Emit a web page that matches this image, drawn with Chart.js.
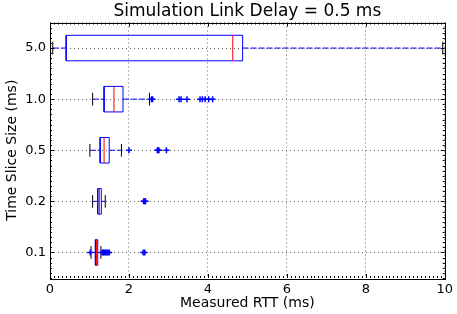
<!DOCTYPE html>
<html>
<head>
<meta charset="utf-8">
<script src="https://cdn.jsdelivr.net/npm/chart.js@4"></script>
<style>
  html, body { margin: 0; padding: 0; background: #fff; }
</style>
</head>
<body>
<canvas id="rttChart" width="457" height="314"></canvas>
<script>
// Box plot stats per time slice size (bottom row first), values in ms
const sliceSizes = ['0.1', '0.2', '0.5', '1.0', '5.0'];
const whiskerLow = [1.04, 1.08, 1.01, 1.08, 0.07];
const quartile1 = [1.15, 1.21, 1.27, 1.37, 0.41];
const medians = [1.18, 1.25, 1.37, 1.62, 4.63];
const quartile3 = [1.21, 1.30, 1.50, 1.85, 4.88];
const whiskerHigh = [1.29, 1.40, 1.81, 2.52, 9.95];
const fliers = [
    [1.02, 1.32, 1.35, 1.38, 1.41, 1.44, 1.47, 1.50, 2.36, 2.40],
    [2.37, 2.40, 2.42],
    [2.00, 2.72, 2.74, 2.76, 2.95],
    [2.57, 2.60, 3.27, 3.32, 3.47, 3.80, 3.86, 3.93, 4.02, 4.12],
    []
];
const xTicks = [0, 2, 4, 6, 8, 10];
const chartTitle = 'Simulation Link Delay = 0.5 ms';

const BOX_HALF = 0.25;
const CAP_HALF = 0.125;
const FONT = 'DejaVu Sans';

// turn a list of [x1, y1, x2, y2] into one broken line
function segments(list) {
    const out = [];
    list.forEach(([x1, y1, x2, y2]) => {
        out.push({ x: x1, y: y1 }, { x: x2, y: y2 }, { x: null, y: null });
    });
    return out;
}

const whiskerSegs = [];
const capSegs = [];
const boxSegs = [];
const medianSegs = [];
const flierPoints = [];

sliceSizes.forEach((s, i) => {
    const y = i + 1;
    whiskerSegs.push([whiskerLow[i], y, quartile1[i], y], [quartile3[i], y, whiskerHigh[i], y]);
    capSegs.push([whiskerLow[i], y - CAP_HALF, whiskerLow[i], y + CAP_HALF]);
    capSegs.push([whiskerHigh[i], y - CAP_HALF, whiskerHigh[i], y + CAP_HALF]);
    const lo = y - BOX_HALF, hi = y + BOX_HALF;
    boxSegs.push([quartile1[i], lo, quartile3[i], lo], [quartile3[i], lo, quartile3[i], hi],
                 [quartile3[i], hi, quartile1[i], hi], [quartile1[i], hi, quartile1[i], lo]);
    medianSegs.push([medians[i], lo, medians[i], hi]);
    fliers[i].forEach(v => flierPoints.push({ x: v, y: y }));
});

// frame, small inward ticks and a title centred over the plot, like matplotlib
const framePlugin = {
    id: 'frame',
    afterDraw(chart) {
        const { ctx, chartArea: a, scales } = chart;
        ctx.save();
        ctx.strokeStyle = '#000';
        ctx.lineWidth = 1;
        ctx.beginPath();
        for (let v = 0; v <= 10.001; v += 0.1) {
            const px = Math.round(scales.x.getPixelForValue(v)) + 0.5;
            const len = Math.abs(v / 2 - Math.round(v / 2)) < 0.01 ? 4 : 2;
            ctx.moveTo(px, a.bottom); ctx.lineTo(px, a.bottom - len);
            ctx.moveTo(px, a.top); ctx.lineTo(px, a.top + len);
        }
        for (let v = 0.5; v <= 5.501; v += 0.1) {
            const py = Math.round(scales.y.getPixelForValue(v)) + 0.5;
            const len = Math.abs(v - Math.round(v)) < 0.01 ? 4 : 2;
            ctx.moveTo(a.left, py); ctx.lineTo(a.left + len, py);
            ctx.moveTo(a.right, py); ctx.lineTo(a.right - len, py);
        }
        ctx.stroke();
        ctx.strokeRect(Math.round(a.left) + 0.5, Math.round(a.top) + 0.5,
                       Math.round(a.right - a.left), Math.round(a.bottom - a.top));

        ctx.fillStyle = '#000';
        ctx.font = Chart.helpers.toFont({ family: FONT, size: 17 }).string;
        ctx.textAlign = 'center';
        ctx.textBaseline = 'middle';
        ctx.fillText(chartTitle, (a.left + a.right) / 2, 12);
        ctx.restore();
    }
};

const gridDotted = {
    color: '#666',
    lineWidth: 1,
    drawTicks: false
};

new Chart(document.getElementById('rttChart'), {
    type: 'scatter',
    data: {
        datasets: [
            {
                data: segments(whiskerSegs),
                showLine: true,
                borderColor: '#0000ff',
                borderWidth: 1,
                borderDash: [6, 2],
                pointRadius: 0,
                order: 4
            },
            {
                data: segments(capSegs),
                showLine: true,
                borderColor: '#000',
                borderWidth: 1,
                pointRadius: 0,
                order: 3
            },
            {
                data: segments(boxSegs),
                showLine: true,
                borderColor: '#0000ff',
                borderWidth: 1,
                pointRadius: 0,
                order: 2
            },
            {
                data: segments(medianSegs),
                showLine: true,
                borderColor: '#ff0000',
                borderWidth: 1,
                pointRadius: 0,
                order: 1
            },
            {
                data: flierPoints,
                pointStyle: 'cross',
                pointRadius: 3,
                borderColor: '#0000ff',
                backgroundColor: '#0000ff',
                pointBorderWidth: 1.5,
                order: 0
            }
        ]
    },
    options: {
        responsive: false,
        animation: false,
        layout: { padding: { top: 22.5, right: 12, bottom: 0, left: 0 } },
        plugins: {
            legend: { display: false },
            tooltip: { enabled: false },
            title: { display: false }
        },
        scales: {
            x: {
                type: 'linear',
                min: 0,
                max: 10,
                afterBuildTicks: s => { s.ticks = xTicks.map(v => ({ value: v })); },
                afterFit: s => { s.height = 36; },
                ticks: {
                    color: '#000',
                    padding: 4,
                    font: { family: FONT, size: 13 },
                    callback: v => String(v)
                },
                grid: gridDotted,
                border: { display: false, dash: [1, 3] },
                title: {
                    display: true,
                    text: 'Measured RTT (ms)',
                    color: '#000',
                    font: { family: FONT, size: 14 },
                    padding: { top: 0, bottom: 2 }
                }
            },
            y: {
                type: 'linear',
                min: 0.5,
                max: 5.5,
                afterBuildTicks: s => { s.ticks = sliceSizes.map((c, i) => ({ value: i + 1 })); },
                afterFit: s => { s.width = 50; },
                ticks: {
                    color: '#000',
                    padding: 4,
                    font: { family: FONT, size: 13 },
                    callback: v => sliceSizes[v - 1]
                },
                grid: gridDotted,
                border: { display: false, dash: [1, 3] },
                title: {
                    display: true,
                    text: 'Time Slice Size (ms)',
                    color: '#000',
                    font: { family: FONT, size: 14 },
                    padding: { top: 4, bottom: 0 }
                }
            }
        }
    },
    plugins: [framePlugin]
});
</script>
</body>
</html>
